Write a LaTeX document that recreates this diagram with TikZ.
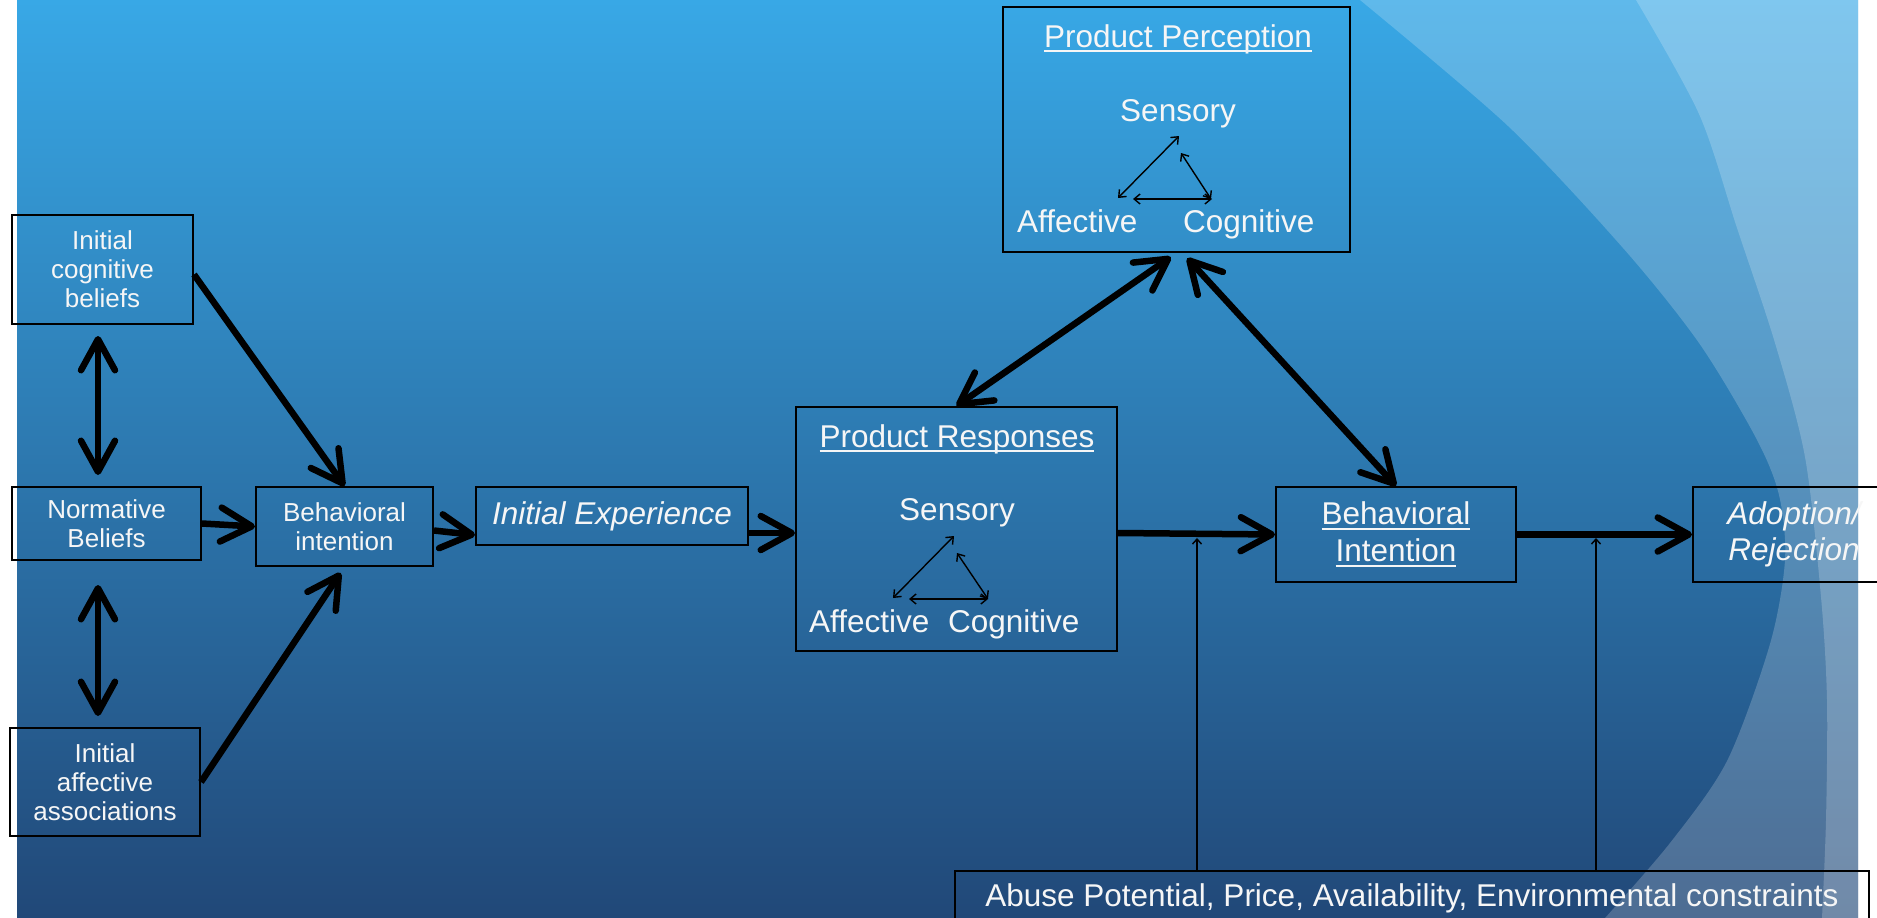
\documentclass[tikz,border=0pt]{standalone}
\usepackage{fontspec}
\setmainfont{Liberation Sans}
\usetikzlibrary{arrows.meta,calc}
\definecolor{bgtop}{RGB}{56,168,230}
\definecolor{bgbot}{RGB}{33,72,120}
\definecolor{txt}{RGB}{246,246,246}
\newcommand\myul[1]{\leavevmode\setbox0=\hbox{#1}\rlap{\rule[-5pt]{\wd0}{1.6pt}}\box0}
\tikzset{
  box/.style={draw=black, line width=2pt, inner sep=0pt, align=center, text=txt},
  lefttxt/.style={font=\fontsize{26pt}{29pt}\selectfont},
  mainf/.style={font=\fontsize{31.5pt}{37pt}\selectfont},
  itf/.style={font=\fontsize{31.5pt}{36pt}\selectfont\itshape},
  lbl/.style={text=txt, inner sep=0pt},
  bigarrow/.style={line width=6.5pt, black, arrows={-Straight Barb[length=31pt,width=34pt,round]}},
  bigdouble/.style={line width=6.5pt, black, arrows={Straight Barb[length=31pt,width=34pt,round]-Straight Barb[length=31pt,width=34pt,round]}},
  thinboth/.style={line width=1.4pt, black, arrows={Straight Barb[length=6pt,width=10pt]-Straight Barb[length=6pt,width=10pt]}},
  thinup/.style={line width=1.4pt, black, arrows={-Straight Barb[length=5pt,width=9pt]}}
}
\begin{document}
\begin{tikzpicture}[x=1pt,y=-1pt]
\useasboundingbox (0,0) rectangle (1877,918);
% background
\fill[white] (0,0) rectangle (1877,918);
\shade[top color=bgtop, bottom color=bgbot] (17,0) rectangle (1858,918);
\begin{scope}
  \clip (17,0) rectangle (1858,918);
  \fill[white, opacity=0.2] plot[smooth] coordinates {(1360,0) (1508,126) (1623,248) (1699,343) (1756,438) (1779,495) (1785,560) (1770,644) (1727,761) (1670,843) (1605,918)} -- (1900,918) -- (1900,0) -- cycle;
  \fill[white, opacity=0.2] plot[smooth] coordinates {(1636,0) (1699,114) (1737,228) (1775,343) (1805,457) (1821,597) (1827,700) (1826,820) (1822,918)} -- (1900,918) -- (1900,0) -- cycle;
\end{scope}

% left column
\node[box, lefttxt, minimum width=181pt, minimum height=109pt] (icb) at (102.5,269.5) {Initial\\cognitive\\beliefs};
\node[box, lefttxt, minimum width=189pt, minimum height=73pt] (nb) at (106.5,523.5) {Normative\\Beliefs};
\node[box, lefttxt, minimum width=190pt, minimum height=108pt] (iaa) at (105,782) {Initial\\affective\\associations};
\node[box, lefttxt, minimum width=177pt, minimum height=79pt] (bi) at (344.5,526.5) {Behavioral\\intention};
\node[box, itf, minimum width=272pt, minimum height=58pt] (ie) at (612,516) {Initial Experience};

% product responses
\node[box, minimum width=321pt, minimum height=244pt] (pr) at (956.5,529) {};
\node[lbl, mainf, anchor=base] (prt) at (957,447) {\myul{Product Responses}};
\node[lbl, mainf, anchor=base] (prs) at (957,520) {Sensory};
\node[lbl, mainf, anchor=base west] (pra) at (809,632) {Affective};
\node[lbl, mainf, anchor=base west] (prc) at (948,632) {Cognitive};
\coordinate (prS1) at (954,536); \coordinate (prA1) at (893,598);
\coordinate (prS2) at (957,553); \coordinate (prC1) at (988,599);
\coordinate (prA2) at (909,599); \coordinate (prC2) at (988,599);
\draw[thinboth] (prS1) -- (prA1);
\draw[thinboth] (prS2) -- (prC1);
\draw[thinboth] (prA2) -- (prC2);

% product perception
\node[box, minimum width=347pt, minimum height=245pt] (pp) at (1176.5,129.5) {};
\node[lbl, mainf, anchor=base] (ppt) at (1178,47) {\myul{Product Perception}};
\node[lbl, mainf, anchor=base] (pps) at (1178,121) {Sensory};
\node[lbl, mainf, anchor=base west] (ppa) at (1017,232) {Affective};
\node[lbl, mainf, anchor=base west] (ppc) at (1183,232) {Cognitive};
\coordinate (ppS1) at (1179,136); \coordinate (ppA1) at (1118,198);
\coordinate (ppS2) at (1181,153); \coordinate (ppC1) at (1211,199);
\coordinate (ppA2) at (1133,199); \coordinate (ppC2) at (1212,199);
\draw[thinboth] (ppS1) -- (ppA1);
\draw[thinboth] (ppS2) -- (ppC1);
\draw[thinboth] (ppA2) -- (ppC2);

% right part
\node[box, mainf, minimum width=240pt, minimum height=95pt] (bir) at (1396,534.5) {\myul{Behavioral}\\\myul{Intention}};
\node[box, itf, minimum width=202pt, minimum height=95pt] (ado) at (1794,534.5) {Adoption/\\Rejection};
\node[box, minimum width=914pt, minimum height=89pt] (abuse) at (1412,915.5) {};
\node[lbl, mainf, anchor=base] (abuset) at (1412,906) {Abuse Potential, Price, Availability, Environmental constraints};

% thick connectors
\coordinate (lx) at (98,0);
\draw[bigdouble, shorten <=11pt, shorten >=11pt] (lx |- icb.south) -- (lx |- nb.north);
\draw[bigdouble, shorten <=24pt, shorten >=11pt] (lx |- nb.south) -- (lx |- iaa.north);
\draw[bigarrow] ([yshift=-5pt]icb.east) -- (bi.north);
\draw[bigarrow, shorten >=7pt] (iaa.east) -- (bi.south);
\draw[bigarrow] (nb.east) -- (bi.west);
\draw[bigarrow] ([yshift=-4pt]bi.east) -- ([yshift=-19pt]ie.west);
\draw[bigarrow] ([yshift=-17pt]ie.east) -- ([yshift=-4pt]pr.west);
\draw[bigdouble, shorten >=7pt] (pr.north) -- (pp.south);
\draw[bigdouble, shorten <=7pt] ([xshift=6pt]pp.south) -- (bir.north);
\draw[bigarrow] ([yshift=-4pt]pr.east) -- (bir.west);
\draw[bigarrow] (bir.east) -- (ado.west);

% thin constraint arrows
\coordinate (m1) at (1197,538);
\coordinate (m2) at (1596,538);
\draw[thinup] (m1 |- abuse.north) -- (m1);
\draw[thinup] (m2 |- abuse.north) -- (m2);
\end{tikzpicture}
\end{document}
